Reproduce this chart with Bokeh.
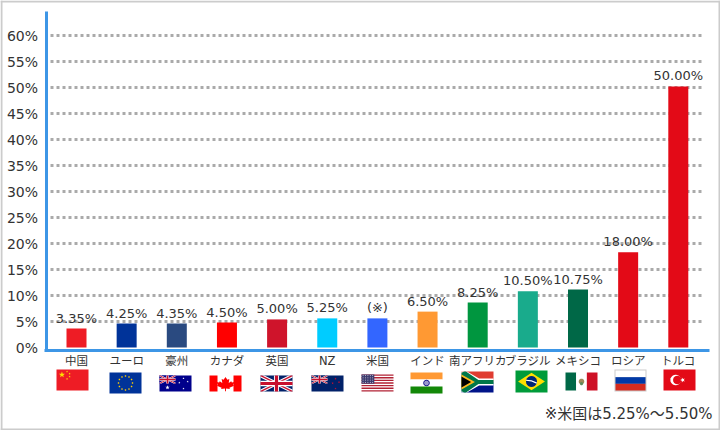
import math
from bokeh.plotting import figure
from bokeh.embed import file_html
from bokeh.resources import INLINE
from bokeh.core.properties import value
from bokeh.models import (ColumnDataSource, Range1d, FixedTicker, LabelSet, Label)

categories = ["中国", "ユーロ", "豪州", "カナダ", "英国", "NZ", "米国", "インド", "南アフリカ", "ブラジル", "メキシコ", "ロシア", "トルコ"]
bar_heights = [3.65, 4.6, 4.6, 4.8, 5.4, 5.6, 5.6, 6.9, 8.65, 10.8, 11.15, 18.3, 50.2]
value_labels = ["3.35%", "4.25%", "4.35%", "4.50%", "5.00%", "5.25%", "(※)", "6.50%", "8.25%", "10.50%", "10.75%", "18.00%", "50.00%"]
bar_colors = ["#ee1c25", "#003399", "#2a4a80", "#ff0000", "#cf142b", "#00ccff", "#3366ff", "#ff9933", "#00963f", "#19ab8c", "#006847", "#e30a17", "#e30a17"]
y_ticks = [0, 5, 10, 15, 20, 25, 30, 35, 40, 45, 50, 55, 60]
grid_levels = [5, 10, 15, 20, 25, 30, 35, 40, 45, 50, 55, 60]
footnote = "※米国は5.25%～5.50%"

FONT = "DejaVu Sans, Noto Sans CJK JP"
TXT = "#333333"
W, H = 720, 430
PX_Y = 5.2
PX_X = 50.15


def ax_x(a):
    return (a - 76) / PX_X


def ax_y(b):
    return (347 - b) / PX_Y


p = figure(width=W, height=H, output_backend="svg", toolbar_location=None,
           x_range=Range1d(ax_x(0), ax_x(W)), y_range=Range1d(ax_y(H), ax_y(0)),
           min_border_left=0, min_border_right=0, min_border_top=0, min_border_bottom=0)
p.grid.visible = False
p.outline_line_color = None
p.background_fill_color = "white"
p.border_fill_color = "white"

BLUE = "#3d96e6"
for ax in (p.xaxis[0], p.yaxis[0]):
    ax.axis_line_color = BLUE
    ax.axis_line_width = 3
    ax.major_tick_line_color = None
    ax.minor_tick_line_color = None
    ax.major_label_text_color = TXT
    ax.major_label_text_font = FONT
yax, xax = p.yaxis[0], p.xaxis[0]
yax.fixed_location = ax_x(45.5)
yax.bounds = (ax_y(351), ax_y(11))
yax.ticker = FixedTicker(ticks=y_ticks)
yax.major_label_overrides = {t: f"{t}%" for t in y_ticks}
yax.major_label_text_font_size = "14px"
yax.major_label_standoff = 2
xax.fixed_location = ax_y(349.5)
xax.bounds = (ax_x(44), ax_x(709))
xax.ticker = FixedTicker(ticks=list(range(len(categories))))
xax.major_label_overrides = {i: c for i, c in enumerate(categories)}
xax.major_label_text_font_size = "11.5px"
xax.major_label_standoff = -2

xs = list(range(len(categories)))
p.segment(x0=[ax_x(50)] * len(grid_levels), x1=[ax_x(702)] * len(grid_levels), y0=grid_levels, y1=grid_levels,
          line_color="#aaaaaa", line_width=3, line_dash="3 3")

src = ColumnDataSource(dict(x=xs, top=bar_heights, color=bar_colors, label=value_labels))
p.vbar(x="x", top="top", bottom=0, width=20 / PX_X, fill_color="color", line_color=None, source=src)
p.add_layout(LabelSet(x="x", y="top", text="label", source=src, text_align="center", text_baseline="bottom",
                      y_offset=3, text_font_size="13px", text_color=TXT, text_font=value(FONT)))
p.add_layout(Label(x=ax_x(712), y=ax_y(422), text=footnote, text_align="right",
                   text_baseline="bottom", text_font_size="15px", text_color=TXT, text_font=FONT))

poly_xs, poly_ys, poly_cs = [], [], []


def poly(pts, color):
    poly_xs.append([ax_x(a) for a, _ in pts])
    poly_ys.append([ax_y(b) for _, b in pts])
    poly_cs.append(color)


class F:
    def __init__(self, x, y, w, h):
        self.x, self.y, self.w, self.h = x, y, w, h

    def pt(self, u, v):
        return (self.x + u * self.w, self.y + v * self.h)

    def rect(self, u0, v0, u1, v1, c):
        poly([self.pt(u0, v0), self.pt(u1, v0), self.pt(u1, v1), self.pt(u0, v1)], c)

    def shape(self, uv, c):
        poly([self.pt(u, v) for u, v in uv], c)

    def circle(self, u, v, r, c):
        cx, cy = self.pt(u, v)
        poly([(cx + r * math.cos(t * math.pi / 10), cy + r * math.sin(t * math.pi / 10)) for t in range(20)], c)

    def star(self, u, v, r, c, rot=-math.pi / 2):
        cx, cy = self.pt(u, v)
        pts = []
        for i in range(10):
            rr = r if i % 2 == 0 else r * 0.42
            a = rot + i * math.pi / 5
            pts.append((cx + rr * math.cos(a), cy + rr * math.sin(a)))
        poly(pts, c)

    def sub(self, u0, v0, u1, v1):
        x0, y0 = self.pt(u0, v0)
        x1, y1 = self.pt(u1, v1)
        return F(x0, y0, x1 - x0, y1 - y0)


def union_jack(f, bg="#012169"):
    f.rect(0, 0, 1, 1, bg)
    t, s = 0.12, 0.12
    f.shape([(0, 0), (t, 0), (1, 1 - s), (1, 1), (1 - t, 1), (0, s)], "white")
    f.shape([(1, 0), (1, s), (t, 1), (0, 1), (0, 1 - s), (1 - t, 0)], "white")
    t, s = 0.05, 0.05
    f.shape([(0, 0), (t, 0), (1, 1 - s), (1, 1), (1 - t, 1), (0, s)], "#c8102e")
    f.shape([(1, 0), (1, s), (t, 1), (0, 1), (0, 1 - s), (1 - t, 0)], "#c8102e")
    f.rect(0, 0.33, 1, 0.67, "white")
    f.rect(0.42, 0, 0.58, 1, "white")
    f.rect(0, 0.4, 1, 0.6, "#c8102e")
    f.rect(0.45, 0, 0.55, 1, "#c8102e")


# China
f = F(56, 369, 32, 21)
f.rect(0, 0, 1, 1, "#ee1c25")
f.star(0.17, 0.25, 3.2, "#ffde00")
for u, v in [(0.33, 0.1), (0.41, 0.2), (0.41, 0.34), (0.33, 0.45)]:
    f.star(u, v, 1.1, "#ffde00")

# Euro
f = F(109, 372, 32, 21)
f.rect(0, 0, 1, 1, "#003399")
for i in range(12):
    a = i * math.pi / 6
    f.circle(0.5 + 7 * math.cos(a) / 32, 0.5 + 7 * math.sin(a) / 21, 0.8, "#ffcc00")

# Australia
f = F(159, 375, 32, 16)
f.rect(0, 0, 1, 1, "#00008b")
union_jack(f.sub(0, 0, 0.5, 0.5), "#00008b")
f.star(0.25, 0.75, 2.2, "white")
for u, v in [(0.75, 0.18), (0.62, 0.45), (0.88, 0.38), (0.75, 0.82)]:
    f.star(u, v, 1.1, "white")

# Canada
f = F(209, 375, 32, 16)
f.rect(0, 0, 1, 1, "white")
f.rect(0, 0, 0.25, 1, "#ff0000")
f.rect(0.75, 0, 1, 1, "#ff0000")
f.shape([(0.5, 0.1), (0.56, 0.27), (0.62, 0.22), (0.6, 0.47), (0.68, 0.36), (0.7, 0.43), (0.78, 0.41), (0.74, 0.6),
         (0.77, 0.64), (0.62, 0.77), (0.64, 0.84), (0.515, 0.82), (0.515, 0.98), (0.485, 0.98), (0.485, 0.82),
         (0.36, 0.84), (0.38, 0.77), (0.23, 0.64), (0.26, 0.6), (0.22, 0.41), (0.3, 0.43), (0.32, 0.36), (0.4, 0.47),
         (0.38, 0.22), (0.44, 0.27)], "#ff0000")

# UK
union_jack(F(260, 375, 32, 16))

# NZ
f = F(311, 375, 32, 16)
f.rect(0, 0, 1, 1, "#012169")
union_jack(f.sub(0, 0, 0.5, 0.5))
for u, v in [(0.75, 0.2), (0.66, 0.48), (0.86, 0.42), (0.75, 0.82)]:
    f.star(u, v, 1.2, "#c8102e")

# USA
f = F(361, 374, 32, 17)
f.rect(0, 0, 1, 1, "white")
for i in range(0, 13, 2):
    f.rect(0, i / 13, 1, (i + 1) / 13, "#b22234")
f.rect(0, 0, 0.4, 7 / 13, "#3c3b6e")
for r in range(4):
    for c in range(5):
        f.circle(0.05 + c * 0.075, 0.07 + r * 0.13, 0.45, "white")

# India
f = F(410, 372, 32, 21)
f.rect(0, 0, 1, 1 / 3, "#ff9933")
f.rect(0, 1 / 3, 1, 2 / 3, "white")
f.rect(0, 2 / 3, 1, 1, "#138808")
f.circle(0.5, 0.5, 3.2, "#000080")
f.circle(0.5, 0.5, 2.4, "#9999cc")

# South Africa
f = F(461, 371, 32, 21)
f.rect(0, 0, 1, 0.5, "#e03c31")
f.rect(0, 0.5, 1, 1, "#001489")
f.shape([(0, 0), (0.17, 0), (0.55, 0.33), (1, 0.33), (1, 0.67), (0.55, 0.67), (0.17, 1), (0, 1)], "white")
f.shape([(0, 0.06), (0.08, 0), (0.14, 0), (0.53, 0.4), (1, 0.4), (1, 0.6), (0.53, 0.6), (0.14, 1), (0.08, 1), (0, 0.94)], "#007749")
f.shape([(0, 0.14), (0.42, 0.5), (0, 0.86)], "#ffb81c")
f.shape([(0, 0.24), (0.3, 0.5), (0, 0.76)], "#000000")

# Brazil
f = F(515, 370, 32, 22)
f.rect(0, 0, 1, 1, "#009b3a")
f.shape([(0.5, 0.1), (0.92, 0.5), (0.5, 0.9), (0.08, 0.5)], "#ffdf00")
f.circle(0.5, 0.5, 5.5, "#002776")
f.shape([(0.33, 0.42), (0.5, 0.44), (0.67, 0.55), (0.66, 0.6), (0.5, 0.5), (0.33, 0.47)], "white")

# Mexico
f = F(565, 372, 32, 18)
f.rect(0, 0, 1 / 3, 1, "#006847")
f.rect(1 / 3, 0, 2 / 3, 1, "white")
f.rect(2 / 3, 0, 1, 1, "#ce1126")
f.circle(0.5, 0.5, 2.8, "#a08a5a")
f.circle(0.5, 0.62, 1.6, "#5d8a5a")

# Russia
f = F(614, 369, 32, 22)
f.rect(0, 0, 1, 1, "#cccccc")
g = F(615, 370, 30, 20)
g.rect(0, 0, 1, 1 / 3, "white")
g.rect(0, 1 / 3, 1, 2 / 3, "#0039a6")
g.rect(0, 2 / 3, 1, 1, "#d52b1e")

# Turkey
f = F(663, 369, 32, 21)
f.rect(0, 0, 1, 1, "#e30a17")
f.circle(0.38, 0.5, 5.3, "white")
f.circle(0.43, 0.5, 4.2, "#e30a17")
f.star(0.6, 0.5, 2.6, "white", rot=math.pi)

# outer frame of the picture
for u0, v0, u1, v1 in [(0, 0, W, 2), (0, H - 2, W, H), (0, 0, 2, H), (W - 2, 0, W, H)]:
    poly([(u0, v0), (u1, v0), (u1, v1), (u0, v1)], "#cccccc")

p.patches(xs=poly_xs, ys=poly_ys, fill_color=poly_cs, line_color=None)

open("out.html", "w").write(file_html(p, INLINE))
